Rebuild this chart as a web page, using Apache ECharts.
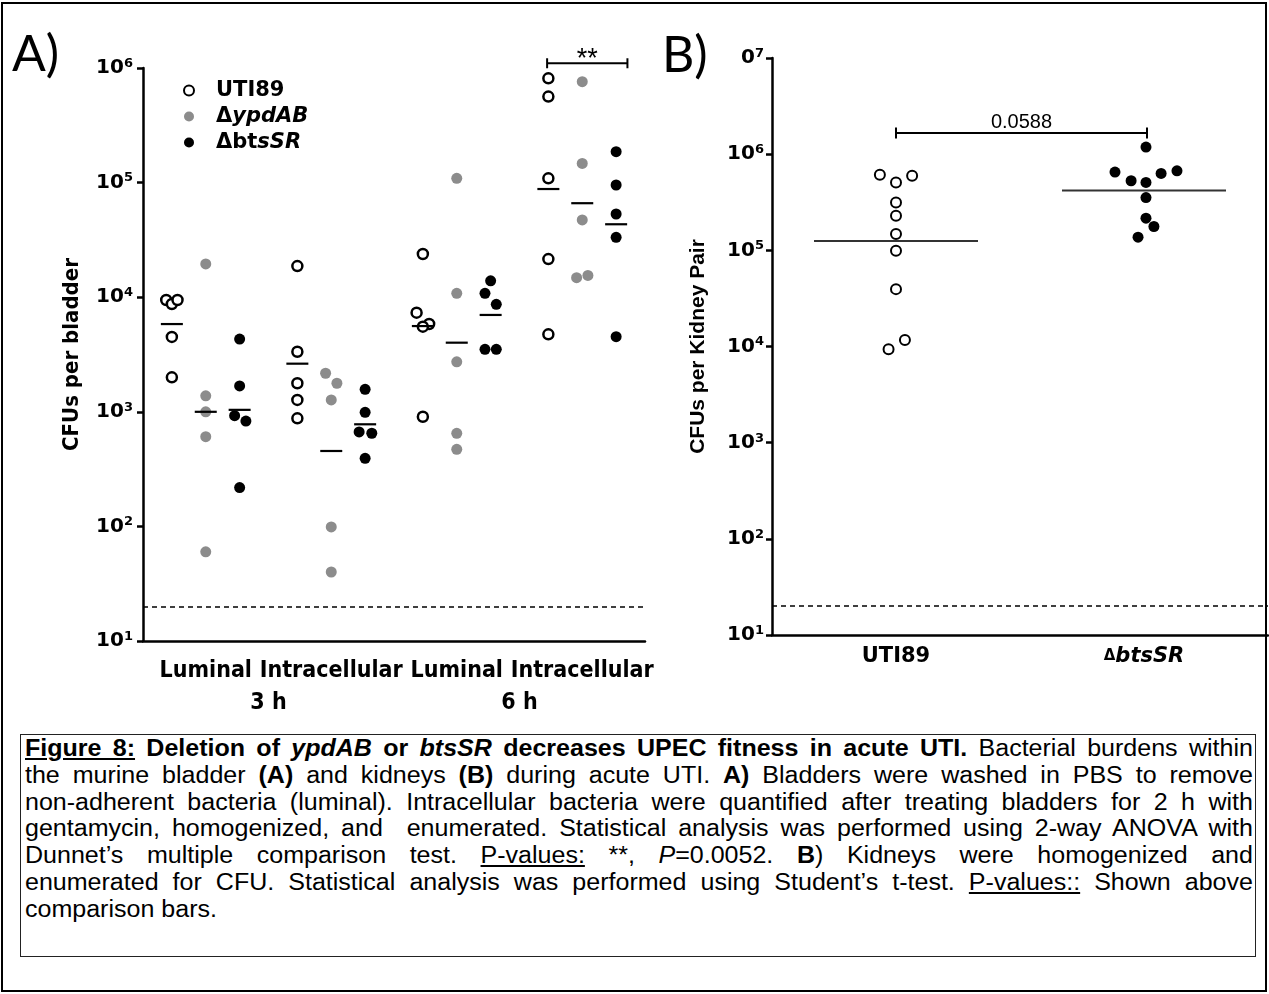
<!DOCTYPE html>
<html>
<head>
<meta charset="utf-8">
<script src="https://cdn.jsdelivr.net/npm/echarts@6/dist/echarts.min.js"></script>
<style>
  html, body { margin: 0; padding: 0; background: #fff; }
  #frame { position: absolute; left: 1px; top: 2px; width: 1266px; height: 990px; border: 2px solid #000; box-sizing: border-box; }
  #chart { position: absolute; left: 0; top: 0; width: 1269px; height: 725px; }
  #caption {
    position: absolute; left: 20px; top: 734px; width: 1236px; height: 223px;
    border: 1px solid #222; box-sizing: border-box; padding: 0 0 0 4px; overflow: hidden;
    font-family: 'Liberation Sans', Arial, sans-serif;
    font-size: 23.5px; line-height: 26.8px; color: #000;
  }
  /* the source face is a little wider than Arial */
  #caption .ln {
    width: 1153px; transform: scaleX(1.065); transform-origin: 0 0;
    text-align: justify; text-align-last: justify;
  }
  #caption .last { text-align: left; text-align-last: left; }
</style>
</head>
<body>
<div id="frame"></div>
<div id="chart"></div>
<div id="caption">
  <div class="ln"><b><u>Figure 8:</u> Deletion of <i>ypdAB</i> or <i>btsSR</i> decreases UPEC fitness in acute UTI.</b> Bacterial burdens within</div>
  <div class="ln">the murine bladder <b>(A)</b> and kidneys <b>(B)</b> during acute UTI. <b>A)</b> Bladders were washed in PBS to remove</div>
  <div class="ln">non-adherent bacteria (luminal). Intracellular bacteria were quantified after treating bladders for 2 h with</div>
  <div class="ln">gentamycin, homogenized, and&nbsp; enumerated. Statistical analysis was performed using 2-way ANOVA with</div>
  <div class="ln">Dunnet’s multiple comparison test. <u>P-values:</u> **, <i>P</i>=0.0052. <b>B</b>) Kidneys were homogenized and</div>
  <div class="ln">enumerated for CFU. Statistical analysis was performed using Student’s t-test. <u>P-values::</u> Shown above</div>
  <div class="ln last">comparison bars.</div>
</div>
<script>
// ---- panel A: bladder CFUs ----
const groupsA = ['Luminal', 'Intracellular', 'Luminal', 'Intracellular'];
const timesA = ['3 h', '6 h'];
const strainsA = ['UTI89', 'ΔypdAB', 'ΔbtsSR'];

// values per group (L3, I3, L6, I6)
const uti89A = [
  [9460, 8720, 9460, 4500, 2000],
  [18700, 3340, 1775, 1270, 877],
  [23800, 7330, 5840, 5530, 905],
  [813000, 563000, 109000, 21500, 4740]
];
const ypdabA = [
  [19500, 1380, 1000, 606, 60],
  [2170, 1775, 1270, 99, 40],
  [109000, 10800, 2730, 649, 471],
  [759000, 147000, 47200, 14800, 15500]
];
const btssrA = [
  [4310, 1680, 925, 830, 218],
  [1570, 990, 667, 650, 393],
  [13900, 10800, 8670, 3510, 3510],
  [186000, 95300, 53200, 33300, 4520]
];
// horizontal jitter of overlapping dots (fraction of a group)
const uti89AJit = [
  [-0.045, 0, 0.045, 0, 0], [0, 0, 0, 0, 0], [0, -0.05, 0.05, 0, 0], [0, 0, 0, 0, 0]
];
const ypdabAJit = [
  [0, 0, 0, 0, 0], [-0.045, 0.045, 0, 0, 0], [0, 0, 0, 0, 0], [0, 0, 0, -0.045, 0.045]
];
const btssrAJit = [
  [0, 0, -0.04, 0.05, 0], [0, 0, -0.048, 0.053, 0], [0, -0.045, 0.045, -0.045, 0.045], [0, 0, 0, 0, 0]
];
// geometric means drawn as bars
const uti89AMean = [5830, 2630, 5600, 87900];
const ypdabAMean = [1000, 455, 4010, 66100];
const btssrAMean = [1040, 778, 7000, 43300];
const strainOffsetA = [-0.27, 0, 0.27];

const sigA = [{ x1: 3.22, x2: 3.86, y: 1.1e6, label: '**' }];

// ---- panel B: kidney CFUs ----
const groupsB = ['UTI89', 'ΔbtsSR'];
const uti89B = [611000, 596000, 508000, 314000, 229000, 148000, 98900, 39500, 9380, 11700];
const uti89BJit = [-0.065, 0.065, 0, 0, 0, 0, 0, 0, -0.03, 0.036];
const btssrB = [1185000, 652000, 672000, 630000, 529000, 508000, 354000, 216000, 177000, 137000];
const btssrBJit = [0.008, -0.117, 0.133, 0.069, -0.052, 0.008, 0.008, 0.008, 0.04, -0.024];
const meanB = [125000, 419000];
const sigB = [{ x1: 0.5, x2: 1.512, y: 1.66e6, label: '0.0588' }];

const detectionLimit = 20;

const narrow = "'Liberation Sans Narrow', 'Arial Narrow', 'DejaVu Sans Condensed', sans-serif";
const wide = "'DejaVu Sans', sans-serif";
const sans = "'Liberation Sans', Arial, sans-serif";

function dots(vals, jit, off) {
  const out = [];
  vals.forEach((arr, g) => arr.forEach((v, i) => out.push([g + 0.5 + off + jit[g][i], v])));
  return out;
}

function powLabel(v) {
  const e = Math.round(Math.log10(v));
  return (e === 7 ? '{b|0}' : '{b|10}') + '{s|' + e + '}';
}
const powRich = {
  b: { fontFamily: wide, fontSize: 20, fontWeight: 'bold', color: '#000', lineHeight: 22 },
  s: { fontFamily: wide, fontSize: 13, fontWeight: 'bold', color: '#000', verticalAlign: 'top', lineHeight: 22 }
};

function bracketRender(list, fontSize, tick, dy) {
  return function (params, api) {
    const d = list[params.dataIndex];
    const a = api.coord([d.x1, d.y]);
    const b = api.coord([d.x2, d.y]);
    const st = { stroke: '#000', lineWidth: 2 };
    return {
      type: 'group',
      children: [
        { type: 'line', shape: { x1: a[0], y1: a[1], x2: b[0], y2: b[1] }, style: st },
        { type: 'line', shape: { x1: a[0], y1: a[1] - tick, x2: a[0], y2: a[1] + tick }, style: st },
        { type: 'line', shape: { x1: b[0], y1: b[1] - tick, x2: b[0], y2: b[1] + tick }, style: st },
        {
          type: 'text', x: (a[0] + b[0]) / 2, y: a[1] + dy,
          style: {
            text: d.label, fill: '#000', align: 'center', verticalAlign: 'bottom',
            font: fontSize + 'px ' + sans
          }
        }
      ]
    };
  };
}

const axisLine = { lineStyle: { color: '#000', width: 2.5 } };
const axisTick = { length: 6, lineStyle: { color: '#000', width: 2.5 } };

const chart = echarts.init(document.getElementById('chart'));
chart.setOption({
  animation: false,
  grid: [
    { left: 143, top: 68, width: 502, height: 573 },
    { left: 772, top: 58, width: 496, height: 577 }
  ],
  legend: {
    orient: 'vertical', left: 178, top: 75, itemWidth: 10, itemHeight: 10, itemGap: 5,
    data: [
      { name: 'UTI89', icon: 'circle', itemStyle: { color: '#fff', borderColor: '#000', borderWidth: 2 } },
      { name: 'ΔypdAB', icon: 'circle', itemStyle: { color: '#8c8c8c', borderWidth: 0 } },
      { name: 'ΔbtsSR', icon: 'circle', itemStyle: { color: '#000', borderWidth: 0 } }
    ],
    formatter: function (n) {
      return { 'UTI89': '{b|UTI89}', 'ΔypdAB': '{b|Δ}{bi|ypdAB}', 'ΔbtsSR': '{b|Δbt}{bi|sSR}' }[n];
    },
    textStyle: {
      padding: [0, 0, 0, 17],
      rich: {
        b: { fontFamily: wide, fontSize: 21, fontWeight: 'bold', color: '#000' },
        bi: { fontFamily: wide, fontSize: 21, fontWeight: 'bold', fontStyle: 'italic', color: '#000' }
      }
    }
  },
  xAxis: [
    { type: 'value', gridIndex: 0, min: 0, max: 4, show: false, position: 'bottom' },
    {
      type: 'category', gridIndex: 0, data: groupsA, position: 'bottom', boundaryGap: true,
      axisLine: axisLine, axisTick: Object.assign({ alignWithLabel: true }, axisTick),
      axisLabel: { margin: 19, interval: 0, fontFamily: narrow, fontSize: 23, fontWeight: 'bold', color: '#000' }
    },
    {
      type: 'category', gridIndex: 0, data: timesA, position: 'bottom',
      axisLine: { show: false }, axisTick: { show: false },
      axisLabel: { margin: 51, fontFamily: narrow, fontSize: 23, fontWeight: 'bold', color: '#000' }
    },
    { type: 'value', gridIndex: 1, min: 0, max: 2, show: false, position: 'bottom' },
    {
      type: 'category', gridIndex: 1, data: groupsB, position: 'bottom',
      axisLine: axisLine, axisTick: Object.assign({ alignWithLabel: true }, axisTick),
      axisLabel: {
        margin: 11, interval: 0,
        formatter: function (v) { return v === 'UTI89' ? '{b|UTI89}' : '{d|Δ}{bi|btsSR}'; },
        rich: {
          b: { fontFamily: wide, fontSize: 21, fontWeight: 'bold', color: '#000' },
          d: { fontFamily: wide, fontSize: 15, fontWeight: 'bold', color: '#000' },
          bi: { fontFamily: wide, fontSize: 21, fontWeight: 'bold', fontStyle: 'italic', color: '#000' }
        }
      }
    }
  ],
  yAxis: [
    {
      type: 'log', gridIndex: 0, logBase: 10, min: 10, max: 1e6, splitNumber: 5,
      axisLine: axisLine, axisTick: axisTick, splitLine: { show: false },
      axisLabel: { margin: 10, formatter: powLabel, rich: powRich },
      name: 'CFUs per bladder', nameLocation: 'middle', nameGap: 60,
      nameTextStyle: { fontFamily: narrow, fontSize: 22, fontWeight: 'bold', color: '#000' }
    },
    {
      type: 'log', gridIndex: 1, logBase: 10, min: 10, max: 1e7, splitNumber: 6,
      axisLine: axisLine, axisTick: axisTick, splitLine: { show: false },
      axisLabel: { margin: 8, formatter: powLabel, rich: powRich },
      name: 'CFUs per Kidney Pair', nameLocation: 'middle', nameGap: 63,
      nameTextStyle: { fontFamily: sans, fontSize: 21, fontWeight: 'bold', color: '#000' }
    }
  ],
  graphic: [
    { type: 'text', left: 12, top: 30, style: { text: 'A)', font: '50px Lato, "Open Sans", sans-serif', fill: '#000' } },
    { type: 'text', left: 662, top: 31, style: { text: 'B)', font: '50px Lato, "Open Sans", sans-serif', fill: '#000' } }
  ],
  series: [
    {
      name: 'UTI89', type: 'scatter', xAxisIndex: 0, yAxisIndex: 0, symbolSize: 10,
      itemStyle: { color: '#fff', borderColor: '#000', borderWidth: 2.5, opacity: 1 },
      data: dots(uti89A, uti89AJit, strainOffsetA[0])
    },
    {
      name: 'ΔypdAB', type: 'scatter', xAxisIndex: 0, yAxisIndex: 0, symbolSize: 11,
      itemStyle: { color: '#8c8c8c', opacity: 1 },
      data: dots(ypdabA, ypdabAJit, strainOffsetA[1])
    },
    {
      name: 'ΔbtsSR', type: 'scatter', xAxisIndex: 0, yAxisIndex: 0, symbolSize: 11,
      itemStyle: { color: '#000', opacity: 1 },
      data: dots(btssrA, btssrAJit, strainOffsetA[2])
    },
    {
      name: 'meanA', type: 'scatter', xAxisIndex: 0, yAxisIndex: 0, symbol: 'rect', symbolSize: [22, 2.2],
      itemStyle: { color: '#000', opacity: 1 }, z: 3,
      data: [uti89AMean, ypdabAMean, btssrAMean].flatMap(function (m, s) {
        return m.map(function (v, g) { return [g + 0.5 + strainOffsetA[s], v]; });
      }),
      markLine: {
        silent: true, symbol: 'none', label: { show: false },
        lineStyle: { color: '#000', width: 1.6, type: [5, 4] },
        data: [{ yAxis: detectionLimit }]
      }
    },
    {
      type: 'custom', xAxisIndex: 0, yAxisIndex: 0, clip: false,
      renderItem: bracketRender(sigA, 27, 5, 10),
      data: sigA.map(function (d) { return [d.x1, d.y]; })
    },
    {
      name: 'UTI89', type: 'scatter', xAxisIndex: 3, yAxisIndex: 1, symbolSize: 10,
      itemStyle: { color: '#fff', borderColor: '#000', borderWidth: 2, opacity: 1 },
      data: uti89B.map(function (v, i) { return [0.5 + uti89BJit[i], v]; })
    },
    {
      name: 'ΔbtsSR', type: 'scatter', xAxisIndex: 3, yAxisIndex: 1, symbolSize: 11,
      itemStyle: { color: '#000', opacity: 1 },
      data: btssrB.map(function (v, i) { return [1.5 + btssrBJit[i], v]; })
    },
    {
      name: 'meanB', type: 'scatter', xAxisIndex: 3, yAxisIndex: 1, symbol: 'rect', symbolSize: [164, 2],
      itemStyle: { color: '#333', opacity: 1 }, z: 1,
      data: meanB.map(function (v, g) { return [g + 0.5, v]; }),
      markLine: {
        silent: true, symbol: 'none', label: { show: false },
        lineStyle: { color: '#000', width: 1.6, type: [5, 4] },
        data: [{ yAxis: detectionLimit }]
      }
    },
    {
      type: 'custom', xAxisIndex: 3, yAxisIndex: 1, clip: false,
      renderItem: bracketRender(sigB, 20, 5.5, -1),
      data: sigB.map(function (d) { return [d.x1, d.y]; })
    }
  ]
});
</script>
</body>
</html>
